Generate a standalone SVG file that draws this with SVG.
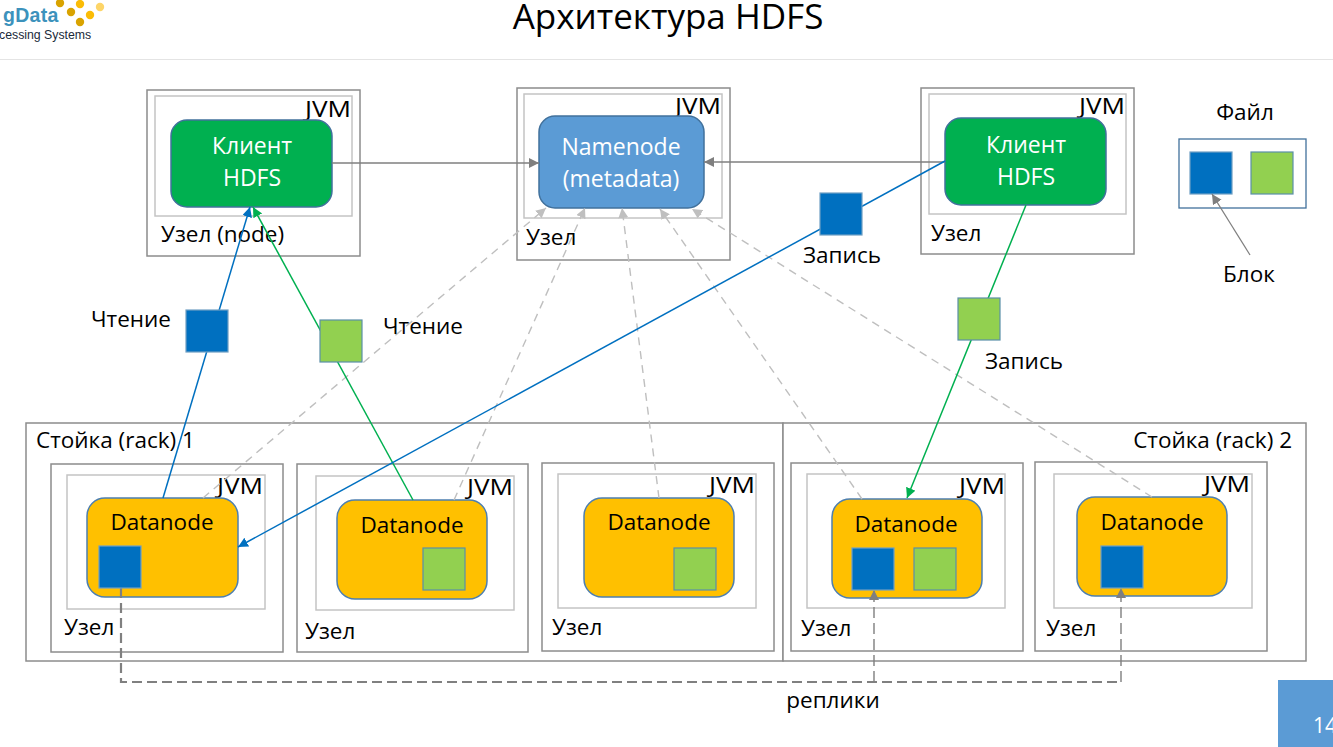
<svg xmlns="http://www.w3.org/2000/svg" width="1333" height="747" viewBox="0 0 1333 747">
<style>
text{font-family:"Open Sans","Noto Sans","Liberation Sans",sans-serif;fill:#000;font-size:22.5px}
.m{text-anchor:middle}
.e{text-anchor:end}
.w{fill:#fff;font-size:23px}
.outer{fill:#fff;stroke:#8c8c8c;stroke-width:1.5}
.jvm{fill:none;stroke:#c4c4c4;stroke-width:1.5}
.dn{fill:#ffc000;stroke:#4d7fb0;stroke-width:1.5}
.cl{fill:#00b050;stroke:#41719c;stroke-width:1.5}
.nn{fill:#5b9bd5;stroke:#41719c;stroke-width:1.5}
.bb{fill:#0070c0;stroke:#6f9fc4;stroke-width:1.2}
.gb{fill:#92d050;stroke:#5b8fa8;stroke-width:1.2}
.gray{fill:none;stroke:#7f7f7f;stroke-width:1.3;marker-end:url(#ag)}
.dash{fill:none;stroke:#bfbfbf;stroke-width:1.4;stroke-dasharray:8 6;marker-end:url(#al)}
.blue{fill:none;stroke:#0070c0;stroke-width:1.5;marker-end:url(#ab)}
.green{fill:none;stroke:#00b050;stroke-width:1.5;marker-end:url(#agr)}
.rep{fill:none;stroke:#808080;stroke-width:2.2;stroke-dasharray:10 5}
.repa{fill:none;stroke:#7f7f7f;stroke-width:1.4;stroke-dasharray:11 5;marker-end:url(#ag)}
</style>
<defs>
<marker id="ag" markerUnits="userSpaceOnUse" markerWidth="11" markerHeight="11" refX="10" refY="5" orient="auto"><path d="M0 0L10 5L0 10z" fill="#7f7f7f"/></marker>
<marker id="al" markerUnits="userSpaceOnUse" markerWidth="11" markerHeight="11" refX="10" refY="5" orient="auto"><path d="M0 0L10 5L0 10z" fill="#bfbfbf"/></marker>
<marker id="ab" markerUnits="userSpaceOnUse" markerWidth="11" markerHeight="11" refX="10" refY="5" orient="auto"><path d="M0 0L10 5L0 10z" fill="#0070c0"/></marker>
<marker id="agr" markerUnits="userSpaceOnUse" markerWidth="11" markerHeight="11" refX="10" refY="5" orient="auto"><path d="M0 0L10 5L0 10z" fill="#00b050"/></marker>
</defs>
<rect width="1333" height="747" fill="#fff"/>
<g id="header">
<text x="3" y="22" style="font-family:'Liberation Sans',sans-serif;font-size:19.5px;font-weight:700;letter-spacing:.3px;fill:#3c92bc">gData</text>
<text x="-1" y="39" style="font-family:'Liberation Sans',sans-serif;font-size:12.3px;fill:#1a2a3a">cessing Systems</text>
<g fill="#d9a300"><circle cx="60" cy="3" r="4.200"/><circle cx="71" cy="12" r="4.200"/><circle cx="80" cy="22" r="4.200"/></g>
<g fill="#fbbc05"><circle cx="80" cy="4" r="4.200"/><circle cx="90" cy="15" r="4.200"/></g>
<circle cx="100" cy="7" r="4.200" fill="#fdd568"/>
<line x1="0" y1="59.500" x2="1333" y2="59.500" stroke="#e4e4e4" stroke-width="1"/>
<text x="668" y="29" class="m" style="font-size:35px">Архитектура HDFS</text>
</g>
<g id="rack1"><rect class="outer" x="26" y="423" width="757" height="238"/><text x="36" y="448">Стойка (rack) 1</text></g>
<g id="rack2"><rect class="outer" x="783" y="423" width="523" height="238"/><text x="1292" y="448" class="e">Стойка (rack) 2</text></g>
<g id="client1"><rect class="outer" x="147" y="90" width="213" height="166"/><rect class="jvm" x="155" y="96" width="197" height="120"/><text x="305" y="117" textLength="46" lengthAdjust="spacingAndGlyphs">JVM</text><rect class="cl" x="171" y="120" width="161" height="87" rx="16"/><text class="m w" x="252" y="154">Клиент</text><text class="m w" x="252" y="186">HDFS</text><text x="161" y="242">Узел (node)</text></g>
<g id="namenode"><rect class="outer" x="517" y="88" width="213" height="172"/><rect class="jvm" x="524" y="94" width="198" height="124"/><text x="675" y="114" textLength="46" lengthAdjust="spacingAndGlyphs">JVM</text><rect class="nn" x="539" y="116" width="165" height="92" rx="16"/><text class="m w" x="621" y="155">Namenode</text><text class="m w" x="621" y="187">(metadata)</text><text x="526" y="245">Узел</text></g>
<g id="client2"><rect class="outer" x="921" y="88" width="213" height="166"/><rect class="jvm" x="929" y="94" width="197" height="120"/><text x="1079" y="114" textLength="46" lengthAdjust="spacingAndGlyphs">JVM</text><rect class="cl" x="945" y="118" width="161" height="87" rx="16"/><text class="m w" x="1026" y="153">Клиент</text><text class="m w" x="1026" y="185">HDFS</text><text x="931" y="241">Узел</text></g>
<g id="file"><text class="m" x="1245" y="120">Файл</text><rect x="1179" y="139" width="127" height="69" fill="#fff" stroke="#41719c" stroke-width="1.3"/><rect class="bb" x="1190" y="152" width="42" height="42"/><rect class="gb" x="1251" y="152" width="42" height="42"/><text class="m" x="1249" y="282">Блок</text></g>
<g id="dn1"><rect class="outer" x="51" y="464" width="232" height="188"/><rect class="jvm" x="67" y="475" width="198" height="134"/><text x="217" y="494" textLength="46" lengthAdjust="spacingAndGlyphs">JVM</text><rect class="dn" x="87" y="498" width="151" height="99" rx="18"/><text class="m" x="162" y="530">Datanode</text><text x="64" y="635">Узел</text></g>
<g id="dn2"><rect class="outer" x="297" y="464" width="231" height="188"/><rect class="jvm" x="316" y="476" width="198" height="134"/><text x="467" y="495" textLength="46" lengthAdjust="spacingAndGlyphs">JVM</text><rect class="dn" x="337" y="500" width="150" height="99" rx="18"/><text class="m" x="412" y="533">Datanode</text><text x="305" y="639">Узел</text></g>
<g id="dn3"><rect class="outer" x="542" y="463" width="232" height="188"/><rect class="jvm" x="558" y="474" width="198" height="134"/><text x="709" y="493" textLength="46" lengthAdjust="spacingAndGlyphs">JVM</text><rect class="dn" x="584" y="498" width="150" height="99" rx="18"/><text class="m" x="659" y="530">Datanode</text><text x="552" y="635">Узел</text></g>
<g id="dn4"><rect class="outer" x="791" y="463" width="232" height="188"/><rect class="jvm" x="807" y="474" width="198" height="134"/><text x="959" y="494" textLength="46" lengthAdjust="spacingAndGlyphs">JVM</text><rect class="dn" x="832" y="499" width="150" height="99" rx="18"/><text class="m" x="906" y="532">Datanode</text><text x="801" y="636">Узел</text></g>
<g id="dn5"><rect class="outer" x="1035" y="462" width="232" height="189"/><rect class="jvm" x="1054" y="474" width="198" height="134"/><text x="1204" y="492" textLength="46" lengthAdjust="spacingAndGlyphs">JVM</text><rect class="dn" x="1077" y="497" width="150" height="99" rx="18"/><text class="m" x="1152" y="530">Datanode</text><text x="1046" y="636">Узел</text></g>
<g id="connectors">
<path class="gray" d="M332 163H539"/>
<path class="gray" d="M945 162H704"/>
<path class="gray" d="M1250 255L1212 194"/>
<path class="dash" d="M203 498L546 208"/>
<path class="dash" d="M454 500L585 208"/>
<path class="dash" d="M659 498L622 208"/>
<path class="dash" d="M862 499L660 209"/>
<path class="dash" d="M1152 497L692 209"/>
<path class="blue" d="M163 498L250 207"/>
<path class="green" d="M413 500L253 207"/>
<path class="blue" d="M945 161L238 547"/>
<path class="green" d="M1026 205L907 498"/>
<path class="rep" d="M121 588V682H1121"/>
<path class="repa" d="M874 682V590"/>
<path class="repa" d="M1121 682V588"/>
</g>
<g id="blocks">
<rect class="bb" x="99" y="546" width="42" height="42"/>
<rect class="gb" x="423" y="548" width="42" height="42"/>
<rect class="gb" x="674" y="548" width="42" height="42"/>
<rect class="bb" x="852" y="548" width="42" height="42"/>
<rect class="gb" x="914" y="548" width="42" height="42"/>
<rect class="bb" x="1101" y="546" width="42" height="42"/>
<rect class="bb" x="186" y="310" width="42" height="42"/>
<rect class="gb" x="320" y="320" width="42" height="42"/>
<rect class="bb" x="820" y="193" width="42" height="42"/>
<rect class="gb" x="958" y="298" width="42" height="42"/>
</g>
<g id="labels">
<text x="91" y="327">Чтение</text>
<text x="383" y="334">Чтение</text>
<text x="803" y="263">Запись</text>
<text x="985" y="369">Запись</text>
<text class="m" x="833" y="708">реплики</text>
</g>
<g id="pagenum"><rect x="1278" y="680" width="55" height="67" fill="#5b9bd5"/><text x="1313" y="733" style="fill:#fff;font-size:21px">14</text></g>
</svg>
